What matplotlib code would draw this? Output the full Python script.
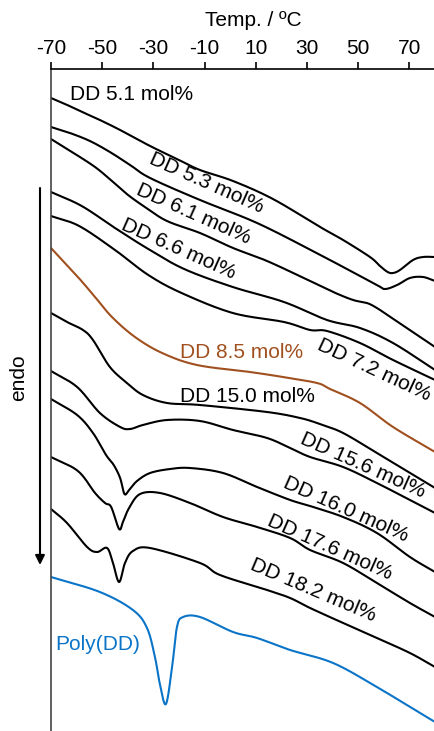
import numpy as np
import matplotlib.pyplot as plt

plt.rcParams['font.family'] = ['Liberation Sans', 'DejaVu Sans']
plt.rcParams['axes.unicode_minus'] = False

# DSC heating traces, temperature (ºC) vs. stacked heat-flow offset (endo down)
t_51 = [-70, -64.5, -58.7, -50.9, -43, -31.3, -20, -11.8, 1.1, 16.7, 35.1, 44.1, 54.6, 58.5, 61.5, 63.6, 66.3, 71.4, 75.3, 80]
q_51 = [98, 104, 111, 120, 130, 146, 160, 170, 181, 199, 227, 240, 257, 266, 272, 273, 270, 260, 257, 257]

t_53 = [-70, -62.6, -54.8, -47, -39.1, -31.3, -11.8, 10.5, 33, 44.1, 57.3, 60.5, 65.2, 70.2, 75.3, 80]
q_53 = [127, 133, 141, 152, 165, 178, 200, 223, 252, 267, 285, 289, 285, 278, 277, 281]

t_61 = [-70, -61.8, -52.8, -46.2, -39.9, -33.3, -24.7, -11.8, 1.1, 14.4, 31.2, 40.2, 48, 53.4, 57.3, 62, 70.2, 80]
q_61 = [139, 152, 167, 181, 195, 207, 221, 233, 248, 261, 281, 292, 300, 303, 308, 316, 330, 347]

t_66 = [-70, -58, -45, -32, -18, 1, 21, 37.8, 50.7, 63.6, 80]
q_66 = [192, 206, 228, 249, 269, 287, 302, 320, 328, 343, 370]

t_72 = [-70, -59, -45, -32, -19, 1, 21, 31.2, 37.8, 50.7, 63.6, 80]
q_72 = [216, 226, 250, 275, 293, 313, 322, 330, 331, 343, 360, 380]

t_85 = [-70, -59.5, -52.8, -46.2, -37.2, -26.6, -13, 7.7, 20.6, 33.9, 39, 50.7, 63.6, 80]
q_85 = [248, 277, 297, 317, 337, 353, 365, 372, 377, 383, 389, 403, 427, 452]

t_150 = [-70, -63.75, -57.5, -53.6, -47, -40.3, -34.1, -24.7, -11.8, 14.4, 27.3, 35, 44.1, 57.3, 70.2, 80]
q_150 = [313, 322, 330, 340, 367, 383, 395, 403, 405, 412, 418, 424, 433, 453, 473, 488]

t_156 = [-70, -59.8, -50.9, -43, -39.1, -34.1, -24.7, -11.8, 1.1, 14.4, 23.4, 31.2, 44.1, 57.3, 70.2, 80]
q_156 = [371, 387, 413, 427, 429, 425, 420, 421, 430, 438, 448, 457, 467, 483, 500, 513]

t_160 = [-70, -59.8, -53.6, -48.5, -45.5, -43, -41.3, -39.5, -36.4, -31.3, -23.5, -15.7, -2.8, 10.5, 23.4, 31.2, 44.1, 57.3, 70.2, 80]
q_160 = [399, 415, 433, 455, 465, 478, 494, 490, 481, 473, 469, 468, 473, 487, 500, 506, 517, 533, 557, 572]

t_176 = [-70, -59.5, -52.8, -48.9, -46.5, -43.4, -41.9, -39.5, -35.2, -27.4, -15.7, -2.8, 10.5, 23.4, 31.2, 44.1, 57.3, 70.2, 80]
q_176 = [457, 471, 493, 503, 507, 529, 522, 508, 494, 493, 503, 517, 527, 538, 550, 563, 583, 603, 617]

t_182 = [-70, -63.75, -55.9, -52, -48.1, -45.8, -43.4, -41.1, -38, -31.3, -11.8, -4, 14.4, 23.4, 31.2, 44.1, 57.3, 70.2, 80]
q_182 = [509, 523, 547, 552, 548, 563, 582, 563, 551, 548, 563, 575, 590, 598, 608, 623, 638, 653, 667]

t_poly = [-70, -50.9, -38, -32.5, -29.4, -27.4, -25.1, -22.7, -20.8, -18.4, -11.8, 1.1, 10.5, 23.4, 40.2, 57.3, 70.2, 80]
q_poly = [577, 592, 610, 628, 657, 685, 704, 667, 627, 617, 617, 632, 638, 650, 663, 687, 707, 722]

names = ['DD 5.1 mol%', 'DD 5.3 mol%', 'DD 6.1 mol%', 'DD 6.6 mol%', 'DD 7.2 mol%',
         'DD 8.5 mol%', 'DD 15.0 mol%', 'DD 15.6 mol%', 'DD 16.0 mol%',
         'DD 17.6 mol%', 'DD 18.2 mol%', 'Poly(DD)']
temps = [t_51, t_53, t_61, t_66, t_72, t_85, t_150, t_156, t_160, t_176, t_182, t_poly]
flows = [q_51, q_53, q_61, q_66, q_72, q_85, q_150, q_156, q_160, q_176, q_182, q_poly]

BROWN = '#A0501E'
BLUE = '#0A74C8'
colors = ['black'] * 5 + [BROWN] + ['black'] * 5 + [BLUE]

# label anchor (temperature, offset), rotation, alignment
label_pos = [(-62.6, 95, 0, 'left'), (-9.1, 183, -24, 'center'), (-14.5, 214, -24, 'center'),
             (-20.4, 249, -24, 'center'), (56.2, 370, -25, 'center'), (-19.6, 353, 0, 'left'),
             (-19.6, 396, 0, 'left'), (51.9, 465, -24, 'center'), (45.2, 509, -24, 'center'),
             (39.0, 547, -24, 'center'), (32.3, 590, -23, 'center'), (-68.4, 644, 0, 'left')]

FS = 15


def smooth(x, y, n=20):
    # Catmull-Rom through the read-off points
    p = np.column_stack([x, y]).astype(float)
    p = np.vstack([2 * p[0] - p[1], p, 2 * p[-1] - p[-2]])
    out = []
    s = np.linspace(0, 1, n, endpoint=False)[:, None]
    for i in range(1, len(p) - 2):
        p0, p1, p2, p3 = p[i - 1], p[i], p[i + 1], p[i + 2]
        seg = 0.5 * ((2 * p1) + (-p0 + p2) * s + (2 * p0 - 5 * p1 + 4 * p2 - p3) * s ** 2
                     + (-p0 + 3 * p1 - 3 * p2 + p3) * s ** 3)
        out.append(seg)
    out.append(p[-2][None, :])
    out = np.vstack(out)
    return out[:, 0], out[:, 1]


fig = plt.figure(figsize=(4.34, 7.31), dpi=100)
ax = fig.add_axes([51 / 434, 0, 383 / 434, 662 / 731])

for t, q, c in zip(temps, flows, colors):
    xs, ys = smooth(t, q)
    ax.plot(xs, ys, color=c, lw=1.5, solid_capstyle='round')

for name, (lx, ly, rot, ha), c in zip(names, label_pos, colors):
    ax.text(lx, ly, name, color=c, fontsize=FS, rotation=rot, ha=ha, va='center',
            rotation_mode='anchor')

ax.set_xlim(-70, 79.6)
ax.set_ylim(731, 69)
ax.xaxis.tick_top()
ax.set_xticks(np.arange(-70, 71, 20))
ax.tick_params(axis='x', direction='out', length=5, width=1.2, labelsize=FS, pad=3)
ax.set_yticks([])
ax.spines['right'].set_visible(False)
ax.spines['bottom'].set_visible(False)
ax.spines['top'].set_linewidth(1.2)
ax.spines['left'].set_linewidth(1.2)
ax.spines['left'].set_color('#444444')
ax.patch.set_alpha(0)

fig.text(253 / 434, 1 - 20 / 731, 'Temp. / ºC', ha='center', va='center', fontsize=FS)
fig.text(19 / 434, 1 - 378 / 731, 'endo', rotation=90, ha='center', va='center', fontsize=FS)
ax.annotate('', xy=(40 / 434, 1 - 565 / 731), xytext=(40 / 434, 1 - 188 / 731),
            xycoords='figure fraction', textcoords='figure fraction',
            arrowprops=dict(arrowstyle='-|>', color='black', lw=1.5, mutation_scale=14,
                            shrinkA=0, shrinkB=0))

fig.savefig('out.png', dpi=100)
